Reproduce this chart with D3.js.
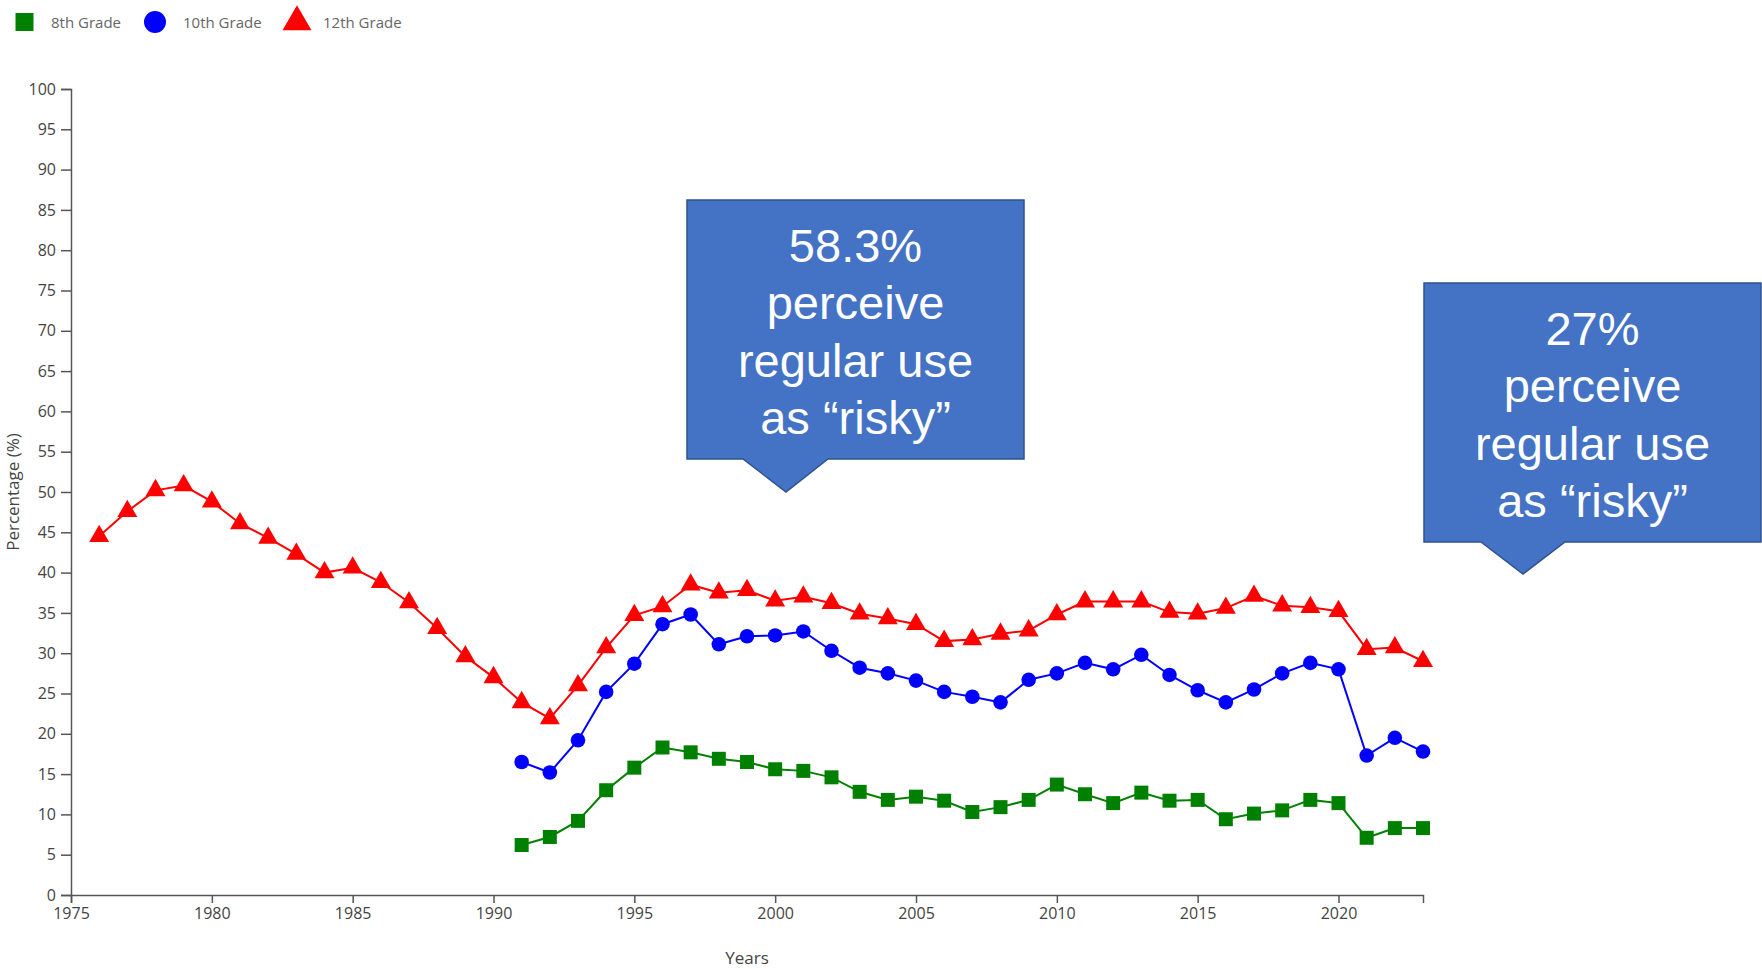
<!DOCTYPE html>
<html>
<head>
<meta charset="utf-8">
<script src="https://cdn.jsdelivr.net/npm/d3@7"></script>
<style>
  html, body { margin: 0; padding: 0; background: #fff; }
  svg { display: block; }
  .tick text { font-family: "Open Sans", "Noto Sans", sans-serif; fill: #444; }
  .domain, .tick line { stroke: #555; stroke-width: 1.5; }
</style>
</head>
<body>
<svg id="chart" width="1762" height="969"></svg>
<script>
// Annual marijuana use by grade, Monitoring the Future survey (percent)
const years8 = [1991, 1992, 1993, 1994, 1995, 1996, 1997, 1998, 1999, 2000, 2001, 2002, 2003, 2004, 2005, 2006, 2007,
  2008, 2009, 2010, 2011, 2012, 2013, 2014, 2015, 2016, 2017, 2018, 2019, 2020, 2021, 2022, 2023];
const grade8 = [6.2, 7.2, 9.2, 13.0, 15.8, 18.3, 17.7, 16.9, 16.5, 15.6, 15.4, 14.6, 12.8, 11.8, 12.2, 11.7, 10.3,
  10.9, 11.8, 13.7, 12.5, 11.4, 12.7, 11.7, 11.8, 9.4, 10.1, 10.5, 11.8, 11.4, 7.1, 8.3, 8.3];

const years10 = [1991, 1992, 1993, 1994, 1995, 1996, 1997, 1998, 1999, 2000, 2001, 2002, 2003, 2004, 2005, 2006, 2007,
  2008, 2009, 2010, 2011, 2012, 2013, 2014, 2015, 2016, 2017, 2018, 2019, 2020, 2021, 2022, 2023];
const grade10 = [16.5, 15.2, 19.2, 25.2, 28.7, 33.6, 34.8, 31.1, 32.1, 32.2, 32.7, 30.3, 28.2, 27.5, 26.6, 25.2, 24.6,
  23.9, 26.7, 27.5, 28.8, 28.0, 29.8, 27.3, 25.4, 23.9, 25.5, 27.5, 28.8, 28.0, 17.3, 19.5, 17.8];

const years12 = [1976, 1977, 1978, 1979, 1980, 1981, 1982, 1983, 1984, 1985, 1986, 1987, 1988, 1989, 1990,
  1991, 1992, 1993, 1994, 1995, 1996, 1997, 1998, 1999, 2000, 2001, 2002, 2003, 2004, 2005, 2006, 2007,
  2008, 2009, 2010, 2011, 2012, 2013, 2014, 2015, 2016, 2017, 2018, 2019, 2020, 2021, 2022, 2023];
const grade12 = [44.5, 47.6, 50.2, 50.8, 48.8, 46.1, 44.3, 42.3, 40.0, 40.6, 38.8, 36.3, 33.1, 29.6, 27.0,
  23.9, 21.9, 26.0, 30.7, 34.7, 35.8, 38.5, 37.5, 37.8, 36.5, 37.0, 36.2, 34.9, 34.3, 33.6, 31.5, 31.7,
  32.4, 32.8, 34.8, 36.4, 36.4, 36.4, 35.1, 34.9, 35.6, 37.1, 35.9, 35.7, 35.2, 30.5, 30.7, 29.0];

const seriesNames = ["8th Grade", "10th Grade", "12th Grade"];
const xTickValues = [1975, 1980, 1985, 1990, 1995, 2000, 2005, 2010, 2015, 2020];
const yTickValues = [0, 5, 10, 15, 20, 25, 30, 35, 40, 45, 50, 55, 60, 65, 70, 75, 80, 85, 90, 95, 100];

const calloutLines1 = ["58.3%", "perceive", "regular use", "as \u201Crisky\u201D"];
const calloutLines2 = ["27%", "perceive", "regular use", "as \u201Crisky\u201D"];

// ---- layout ----
const svg = d3.select("#chart");
const plot = { left: 71, right: 1423, top: 89, bottom: 895 };

const x = d3.scaleLinear().domain([1975, 2023]).range([plot.left, plot.right]);
const y = d3.scaleLinear().domain([0, 100]).range([plot.bottom, plot.top]);

const series = [
  { name: seriesNames[0], years: years8,  values: grade8,  color: "#008000", symbol: d3.symbolSquare,   size: 196, legendSize: 324 },
  { name: seriesNames[1], years: years10, values: grade10, color: "#0000ff", symbol: d3.symbolCircle,   size: 167, legendSize: 380 },
  { name: seriesNames[2], years: years12, values: grade12, color: "#ff0000", symbol: d3.symbolTriangle, size: 173, legendSize: 364 }
];

// ---- axes ----
svg.append("g")
  .attr("transform", `translate(0,${plot.bottom})`)
  .call(d3.axisBottom(x).tickValues(xTickValues).tickFormat(d3.format("d")).tickSize(8).tickPadding(5))
  .call(g => g.selectAll("text").style("font-size", "16px"));

svg.append("g")
  .attr("transform", `translate(${plot.left},0)`)
  .call(d3.axisLeft(y).tickValues(yTickValues).tickSize(10).tickPadding(5))
  .call(g => g.selectAll("text").style("font-size", "16px"));

svg.append("text")
  .attr("x", (plot.left + plot.right) / 2)
  .attr("y", 964)
  .attr("text-anchor", "middle")
  .style("font-family", "'Open Sans', sans-serif")
  .style("font-size", "17px")
  .style("fill", "#444")
  .text("Years");

svg.append("text")
  .attr("transform", `translate(19,${(plot.top + plot.bottom) / 2}) rotate(-90)`)
  .attr("text-anchor", "middle")
  .style("font-family", "'Open Sans', sans-serif")
  .style("font-size", "17px")
  .style("fill", "#444")
  .text("Percentage (%)");

// ---- lines and markers ----
const line = d3.line().x(d => x(d.year)).y(d => y(d.value));

series.forEach(s => {
  const pts = s.years.map((yr, i) => ({ year: yr, value: s.values[i] }));
  svg.append("path")
    .datum(pts)
    .attr("fill", "none")
    .attr("stroke", s.color)
    .attr("stroke-width", 2)
    .attr("d", line);
  svg.append("g")
    .selectAll("path")
    .data(pts)
    .join("path")
    .attr("transform", d => `translate(${x(d.year)},${y(d.value)})`)
    .attr("d", d3.symbol(s.symbol, s.size))
    .attr("fill", s.color);
});

// ---- legend ----
const legendItems = [
  { sx: 24.5, tx: 51 },
  { sx: 155, tx: 183 },
  { sx: 297, tx: 323 }
];
series.forEach((s, i) => {
  const g = svg.append("g");
  g.append("path")
    .attr("transform", `translate(${legendItems[i].sx},22)`)
    .attr("d", d3.symbol(s.symbol, s.legendSize))
    .attr("fill", s.color);
  g.append("text")
    .attr("x", legendItems[i].tx)
    .attr("y", 27.5)
    .style("font-family", "'Open Sans', sans-serif")
    .style("font-size", "15px")
    .style("fill", "#666")
    .text(s.name);
});

// ---- callouts ----
function callout(box, tip, lines, firstBaseline) {
  const pathData = [
    [box.left, box.top], [box.right, box.top], [box.right, box.bottom],
    [tip.baseRight, box.bottom], [tip.x, tip.y], [tip.baseLeft, box.bottom],
    [box.left, box.bottom]
  ];
  svg.append("path")
    .attr("d", d3.line()(pathData) + "Z")
    .attr("fill", "#4472c4")
    .attr("stroke", "#2f528f")
    .attr("stroke-width", 1.5);
  const cx = (box.left + box.right) / 2;
  svg.append("text")
    .attr("text-anchor", "middle")
    .style("font-family", "'Liberation Sans', Arial, sans-serif")
    .style("font-size", "47px")
    .style("fill", "#fff")
    .selectAll("tspan")
    .data(lines)
    .join("tspan")
    .attr("x", cx)
    .attr("y", (d, i) => firstBaseline + i * 57.3)
    .text(d => d);
}

callout({ left: 687, top: 200, right: 1024, bottom: 459 },
        { baseLeft: 743, baseRight: 828, x: 786, y: 492 }, calloutLines1, 262);
callout({ left: 1424, top: 283, right: 1761, bottom: 542 },
        { baseLeft: 1481, baseRight: 1565, x: 1523, y: 574 }, calloutLines2, 345);
</script>
</body>
</html>
